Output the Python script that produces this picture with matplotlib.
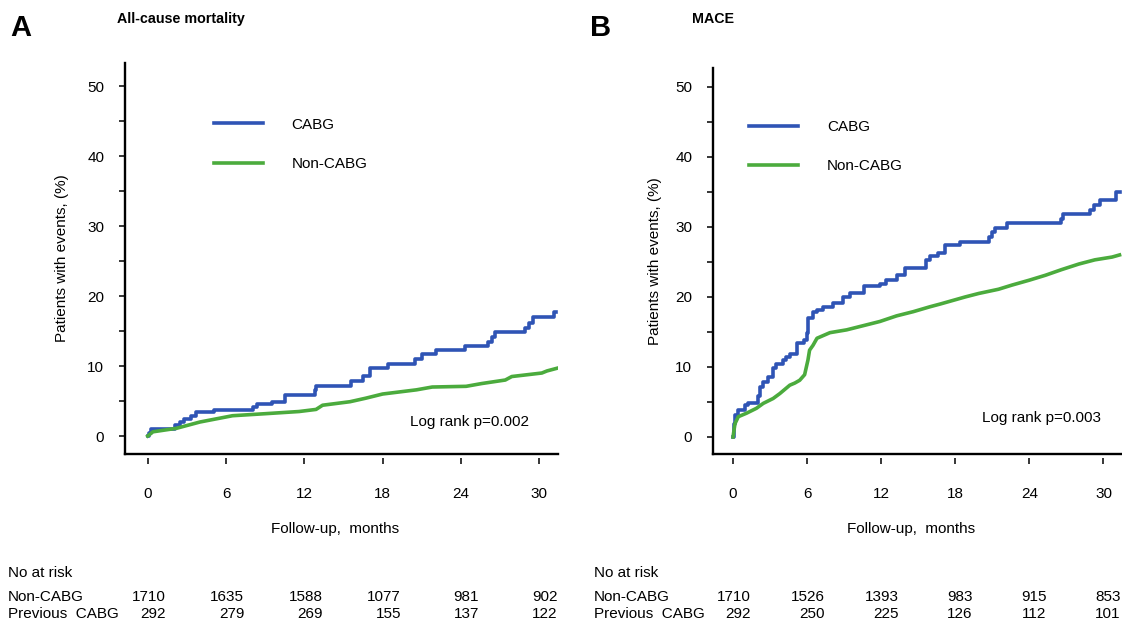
import matplotlib
matplotlib.use("Agg")
import matplotlib.pyplot as plt
from matplotlib.ticker import MultipleLocator
from matplotlib.transforms import blended_transform_factory

plt.rcParams['font.family'] = ['Liberation Sans', 'DejaVu Sans']

# panel A - all-cause mortality
a_cabg_t = [0, 0.1, 0.28, 2.07, 2.45, 2.8, 3.3, 3.7, 5.1, 8.05, 8.4, 9.5, 10.5, 12.8, 12.9,
            15.6, 16.5, 17.0, 18.4, 20.5, 21.0, 22.1, 24.3, 26.1, 26.4, 26.6, 28.9, 29.2,
            29.5, 31.1, 31.3]
a_cabg_v = [0, 0.5, 1.0, 1.6, 2.0, 2.4, 2.9, 3.4, 3.7, 4.2, 4.6, 4.9, 5.9, 6.6, 7.1,
            7.9, 8.6, 9.7, 10.3, 11.0, 11.7, 12.3, 12.9, 13.5, 14.2, 14.8, 15.5, 16.2,
            17.0, 17.7, 17.7]
a_non_t = [0, 0.4, 2.2, 4.0, 6.5, 9.1, 11.6, 12.9, 13.4, 15.5, 16.7, 18.0, 20.6, 21.8,
           24.4, 25.6, 27.4, 27.9, 30.2, 30.6, 31.4]
a_non_v = [0, 0.6, 1.1, 2.0, 2.9, 3.2, 3.5, 3.8, 4.4, 4.9, 5.4, 6.0, 6.6, 7.0,
           7.1, 7.5, 8.0, 8.5, 9.0, 9.3, 9.7]

# panel B - MACE
b_cabg_t = [0, 0.05, 0.16, 0.43, 0.97, 1.2, 2.04, 2.18, 2.45, 2.85, 3.25, 3.5, 4.06, 4.33,
            4.6, 5.2, 5.75, 5.97, 6.1, 6.5, 6.8, 7.3, 8.1, 8.9, 9.5, 10.6, 11.9, 12.4,
            13.3, 13.9, 15.6, 15.95, 16.6, 17.2, 18.4, 20.7, 20.95, 21.2, 22.2, 26.6,
            26.75, 28.9, 29.2, 29.7, 31.0, 31.3]
b_cabg_v = [0, 1.9, 3.1, 3.9, 4.6, 4.9, 5.8, 7.2, 7.9, 8.6, 9.8, 10.4, 11.0, 11.4,
            11.8, 13.4, 13.9, 14.8, 17.0, 17.9, 18.2, 18.6, 19.2, 20.0, 20.6, 21.6, 21.8, 22.4,
            23.1, 24.1, 25.3, 25.8, 26.3, 27.4, 27.9, 28.6, 29.3, 29.8, 30.5, 31.2,
            31.8, 32.4, 33.1, 33.8, 35.0, 35.0]
b_non_t = [0, 0.16, 0.43, 1.1, 1.9, 2.45, 3.25, 3.79, 4.6, 5.0, 5.4, 5.8, 6.07, 6.2, 6.48,
           6.8, 7.85, 9.2, 10.55, 11.9, 13.25, 14.6, 15.95, 16.8, 18.8, 19.9, 21.5, 22.6,
           24.0, 25.3, 26.6, 28.0, 29.3, 30.7, 31.3]
b_non_v = [0, 1.9, 2.9, 3.4, 4.1, 4.8, 5.5, 6.2, 7.4, 7.7, 8.1, 8.9, 11.0, 12.4, 13.1,
           14.1, 14.9, 15.3, 15.9, 16.5, 17.3, 17.9, 18.6, 19.0, 20.0, 20.5, 21.1, 21.7,
           22.4, 23.1, 23.9, 24.7, 25.3, 25.7, 26.0]

risk_times = [0, 6, 12, 18, 24, 30]
a_risk_non = [1710, 1635, 1588, 1077, 981, 902]
a_risk_prev = [292, 279, 269, 155, 137, 122]
b_risk_non = [1710, 1526, 1393, 983, 915, 853]
b_risk_prev = [292, 250, 225, 126, 112, 101]

blue = '#2f54b5'
green = '#4bab3d'
fs = 11

fig = plt.figure(figsize=(11.22, 6.24), dpi=100)
axA = fig.add_axes([125 / 1122, 1 - 454 / 624, 433 / 1122, 391 / 624])
axB = fig.add_axes([713 / 1122, 1 - 454 / 624, 409 / 1122, 386 / 624])


def style(ax, xlim, ylim, leg_xy, lr_xy, lr_text, ylab_x):
    ax.set_xlim(*xlim)
    ax.set_ylim(*ylim)
    ax.spines['top'].set_visible(False)
    ax.spines['right'].set_visible(False)
    ax.spines['left'].set_linewidth(1.7)
    ax.spines['bottom'].set_position(('outward', 3))
    ax.spines['bottom'].set_visible(False)
    ax.axhline(ylim[0], color='black', lw=1.7, clip_on=False)
    ax.set_xticks(risk_times)
    ax.yaxis.set_major_locator(MultipleLocator(10))
    ax.yaxis.set_minor_locator(MultipleLocator(5))
    ax.tick_params(axis='x', length=4.5, width=1.1, pad=16, labelsize=fs)
    ax.tick_params(axis='y', which='both', length=4, width=1.1, pad=11, labelsize=fs)
    ax.set_ylabel('Patients with events, (%)', fontsize=fs)
    ax.set_xlabel('Follow-up,  months', fontsize=fs)
    ax.yaxis.set_label_coords(ylab_x, 0.5)
    ax.xaxis.set_label_coords(0.485, -0.175)
    ax.legend(loc='upper left', bbox_to_anchor=leg_xy, frameon=False, fontsize=fs,
              handlelength=3.2, handletextpad=1.9, labelspacing=1.65,
              borderpad=0, borderaxespad=0)
    ax.text(lr_xy[0], lr_xy[1], lr_text, fontsize=fs, ha='left', va='center')


def risk_table(ax, x0, non, prev):
    tr = blended_transform_factory(ax.transData, fig.transFigure)
    fig.text(x0, 1 - 573 / 624, 'No at risk', fontsize=fs, va='center')
    fig.text(x0, 1 - 597 / 624, 'Non-CABG', fontsize=fs, va='center')
    fig.text(x0, 1 - 614 / 624, 'Previous  CABG', fontsize=fs, va='center')
    for t, n1, n2 in zip(risk_times, non, prev):
        ax.text(t + 1.4, 1 - 597 / 624, str(n1), transform=tr, fontsize=fs,
                ha='right', va='center', clip_on=False)
        ax.text(t + 1.4, 1 - 614 / 624, str(n2), transform=tr, fontsize=fs,
                ha='right', va='center', clip_on=False)


lw = 2.6
axA.plot(a_cabg_t, a_cabg_v, drawstyle='steps-post', color=blue, lw=lw, label='CABG')
axA.plot(a_non_t, a_non_v, color=green, lw=lw, label='Non-CABG')
style(axA, (-1.74, 31.44), (-2.57, 53.3), (0.205, 0.86), (20.1, 2.0), 'Log rank p=0.002', -0.13)

axB.plot(b_cabg_t, b_cabg_v, drawstyle='steps-post', color=blue, lw=lw, label='CABG')
axB.plot(b_non_t, b_non_v, color=green, lw=lw, label='Non-CABG')
style(axB, (-1.62, 31.5), (-2.43, 52.7), (0.088, 0.865), (20.2, 2.7), 'Log rank p=0.003', -0.125)

fig.text(10 / 1122, 1 - 28 / 624, 'A', fontsize=21, fontweight='bold', va='center')
fig.text(117 / 1122, 1 - 19 / 624, 'All-cause mortality', fontsize=10.3, fontweight='bold', va='center')
fig.text(590 / 1122, 1 - 28 / 624, 'B', fontsize=21, fontweight='bold', va='center')
fig.text(692 / 1122, 1 - 19 / 624, 'MACE', fontsize=10.3, fontweight='bold', va='center')

risk_table(axA, 8 / 1122, a_risk_non, a_risk_prev)
risk_table(axB, 594 / 1122, b_risk_non, b_risk_prev)

fig.savefig('out.png', dpi=100)
